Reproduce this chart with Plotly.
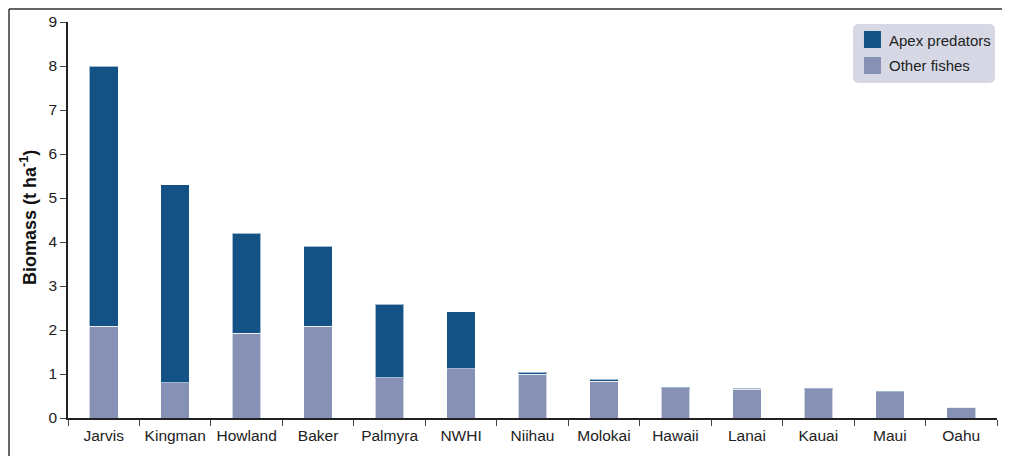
import plotly.graph_objects as go

sites = ["Jarvis", "Kingman", "Howland", "Baker", "Palmyra", "NWHI", "Niihau",
         "Molokai", "Hawaii", "Lanai", "Kauai", "Maui", "Oahu"]
other_fishes = [2.08, 0.80, 1.93, 2.09, 0.91, 1.12, 1.00, 0.83, 0.69, 0.65, 0.67, 0.60, 0.24]
apex_predators = [5.92, 4.50, 2.27, 1.81, 1.68, 1.30, 0.04, 0.05, 0.015, 0.03, 0.01, 0.015, 0.0]
y_ticks = [0, 1, 2, 3, 4, 5, 6, 7, 8, 9]
series_names = ["Apex predators", "Other fishes"]
series_colors = ["#145285", "#8791b5"]

fig = go.Figure()
fig.add_trace(go.Bar(x=sites, y=other_fishes, name=series_names[1], width=0.4,
                     marker=dict(color=series_colors[1], line=dict(color="rgba(255,255,255,0.6)", width=1))))
fig.add_trace(go.Bar(x=sites, y=apex_predators, name=series_names[0], width=0.4,
                     marker=dict(color=series_colors[0], line=dict(color="rgba(255,255,255,0.6)", width=1))))

# legend box (rounded) drawn manually to match the reference's large swatches
bx0, bx1, by0, by1, rx, ry = 0.845, 0.9978, 0.846, 0.9949, 0.0065, 0.015
legend_box = (f"M {bx0+rx},{by1} L {bx1-rx},{by1} Q {bx1},{by1} {bx1},{by1-ry} "
              f"L {bx1},{by0+ry} Q {bx1},{by0} {bx1-rx},{by0} L {bx0+rx},{by0} "
              f"Q {bx0},{by0} {bx0},{by0+ry} L {bx0},{by1-ry} Q {bx0},{by1} {bx0+rx},{by1} Z")
shapes = [dict(type="path", xref="paper", yref="paper", layer="below", path=legend_box,
               fillcolor="#d6d9e5", line=dict(width=0))]
annotations = []
sw_y = [(0.9343, 0.9773), (0.8687, 0.9116)]
txt_y = [0.9545, 0.8889]
for name, col, (y0, y1), ty in zip(series_names, series_colors, sw_y, txt_y):
    shapes.append(dict(type="rect", xref="paper", yref="paper", x0=0.8568, x1=0.8751,
                       y0=y0, y1=y1, fillcolor=col, line=dict(width=0)))
    annotations.append(dict(text=name, xref="paper", yref="paper", x=0.8816, y=ty,
                            xanchor="left", yanchor="middle", showarrow=False,
                            font=dict(size=15, color="#222")))

# frame lines (top and left)
shapes.append(dict(type="line", xref="paper", yref="paper", x0=-0.0635, x1=1.02, y0=1.033, y1=1.033,
                   line=dict(color="#333", width=1.5)))
shapes.append(dict(type="line", xref="paper", yref="paper", x0=-0.0635, x1=-0.0635, y0=-0.1, y1=1.033,
                   line=dict(color="#333", width=1.5)))

annotations.append(dict(text="<b>Biomass (t ha<sup>-1</sup>)</b>", xref="paper", yref="paper",
                        x=-0.043, y=0.505, textangle=-90, showarrow=False,
                        xanchor="center", yanchor="middle", font=dict(size=18, color="#111")))

fig.update_layout(
    barmode="stack",
    width=1002, height=448,
    margin=dict(l=60, r=13, t=14, b=38, autoexpand=False),
    paper_bgcolor="white", plot_bgcolor="white",
    font=dict(family="Liberation Sans, Arial, sans-serif", size=15, color="#222"),
    showlegend=False,
    xaxis=dict(type="category", showline=True, linecolor="#222", linewidth=1.5,
               ticks="outside", tickson="boundaries", ticklen=6, tickcolor="#444",
               showgrid=False, tickfont=dict(size=15.5), ticklabelstandoff=3),
    yaxis=dict(range=[0, 9], tickvals=y_ticks, showline=True, linecolor="#222", linewidth=1.5,
               ticks="outside", ticklen=6, tickcolor="#444", showgrid=False, zeroline=False,
               tickfont=dict(size=15.5)),
    shapes=shapes,
    annotations=annotations,
)

fig.write_html("out.html")
